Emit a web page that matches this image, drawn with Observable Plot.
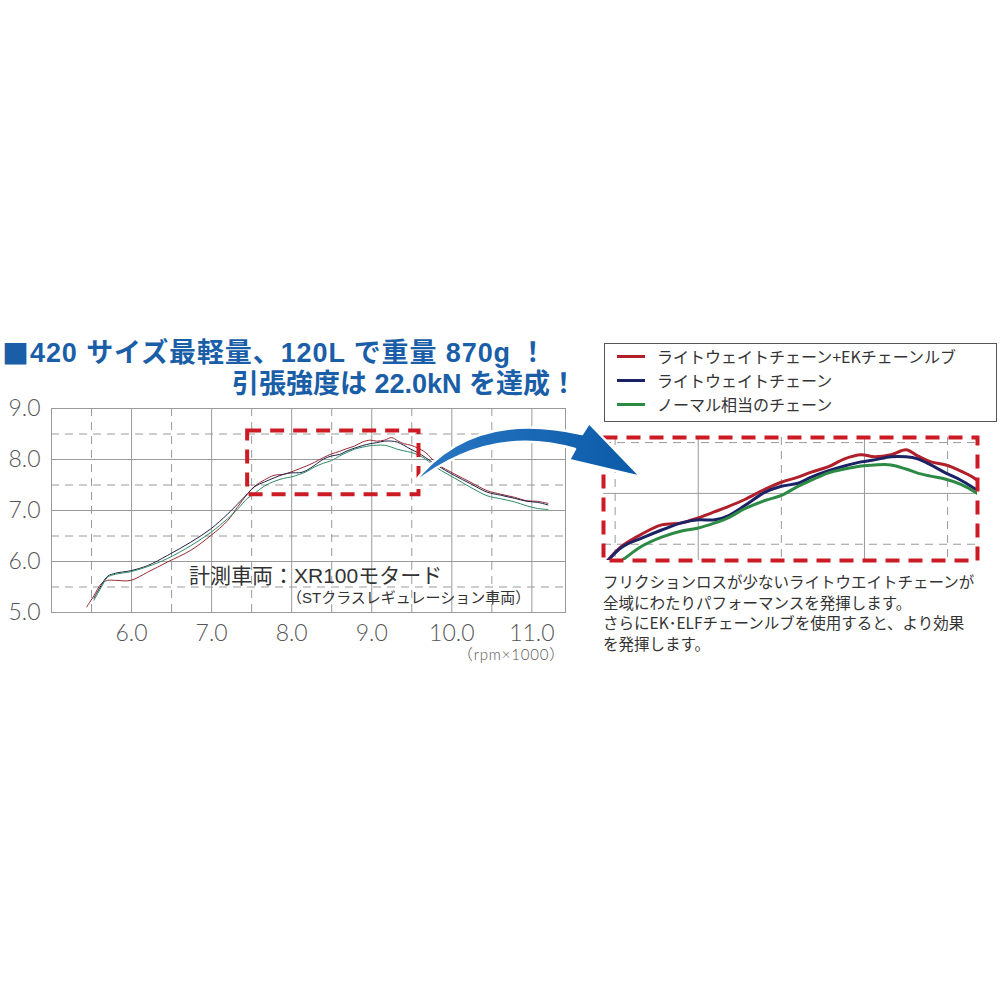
<!DOCTYPE html>
<html><head><meta charset="utf-8">
<script src="https://cdn.jsdelivr.net/npm/d3@7"></script>
<script src="https://cdn.jsdelivr.net/npm/@observablehq/plot@0.6"></script>
<style>
body{margin:0;background:#fff;}
#page{position:relative;width:1000px;height:1000px;overflow:hidden;font-family:"Noto Sans CJK JP","Noto Sans",sans-serif;color:#333;}
.abs{position:absolute;white-space:nowrap;}
</style></head><body><div id="page"></div>
<script>
// ---------- data ----------
const seriesNames = ["ライトウェイトチェーン+EKチェーンルブ", "ライトウェイトチェーン", "ノーマル相当のチェーン"];
const rpm = [5.44,5.53,5.62,5.70,5.80,5.99,6.20,6.45,6.74,6.99,7.20,7.32,7.45,7.54,7.66,7.78,7.90,8.00,8.10,8.18,8.28,8.40,8.50,8.60,8.68,8.78,8.88,8.98,9.06,9.16,9.25,9.32,9.40,9.49,9.58,9.67,9.82,10.03,10.24,10.44,10.61,10.78,10.94,11.07,11.20];
const lightLube = [5.11,5.33,5.56,5.63,5.63,5.63,5.79,5.99,6.22,6.51,6.80,7.06,7.33,7.48,7.60,7.69,7.71,7.76,7.82,7.87,7.94,8.04,8.11,8.16,8.21,8.26,8.34,8.38,8.36,8.38,8.43,8.37,8.31,8.28,8.22,8.14,7.91,7.72,7.55,7.39,7.32,7.26,7.19,7.18,7.14];
const light = [null,5.28,5.53,5.71,5.77,5.82,5.92,6.12,6.38,6.64,6.93,7.12,7.33,7.47,7.56,7.64,7.71,7.74,7.74,7.78,7.88,8.01,8.07,8.10,8.16,8.22,8.27,8.31,8.33,8.36,8.36,8.34,8.28,8.20,8.13,8.04,7.88,7.69,7.52,7.36,7.30,7.24,7.18,7.16,7.11];
const normal = [null,5.24,5.49,5.69,5.75,5.80,5.90,6.06,6.31,6.57,6.84,7.02,7.24,7.34,7.48,7.57,7.63,7.66,7.71,7.76,7.85,7.93,7.98,8.07,8.13,8.20,8.24,8.27,8.28,8.28,8.24,8.20,8.17,8.14,8.09,8.01,7.83,7.64,7.45,7.29,7.23,7.17,7.09,7.04,7.02];
const xTicks = [6,7,8,9,10,11];
const xHalfTicks = [5.5,6.5,7.5,8.5,9.5,10.5];
const yTicks = [5,6,7,8,9];
const yHalfTicks = [5.5,6.5,7.5,8.5];
const zoomX = [7.45, 9.59];   // enlarged window (rpm×1000)
const zoomY = [7.31, 8.56];
const zoomDomainX = [7.43, 9.68];
const zoomDomainY = [7.34, 8.55];
const colorsThin = ["#9a2a31","#1f2448","#2f8a66"];
const colorsBold = ["#b01f2a","#1c2266","#2c8a45"];

const titleMark = "■";
const titleLine1 = "420 サイズ最軽量、120L で重量 870g ！";
const titleLine2 = "引張強度は 22.0kN を達成！";
const vehicle = "計測車両：XR100モタード";
const vehicleNote = "（STクラスレギュレーション車両）";
const unitLabel = "（rpm×1000）";
const noteLines = ["フリクションロスが少ないライトウエイトチェーンが","全域にわたりパフォーマンスを発揮します。","さらにEK･ELFチェーンルブを使用すると、より効果","を発揮します。"];

// ---------- build table ----------
const allVals = [lightLube, light, normal];
const rows = [];
allVals.forEach((vals, k) => vals.forEach((v, i) => { if (v != null) rows.push({rpm: rpm[i], v, s: seriesNames[k]}); }));

const page = document.getElementById("page");
function addDiv(text, css) { const d = document.createElement("div"); d.className = "abs"; d.textContent = text; Object.assign(d.style, css); page.appendChild(d); return d; }
const compact = "'Liberation Sans','Noto Sans CJK JP',sans-serif";

// ---------- title ----------
const tStyle = {color:"#1a5ea8", fontWeight:"700", fontSize:"27px", lineHeight:"30px", fontFamily: compact, textShadow:"0 0 2px #fff"};
addDiv(titleMark, {...tStyle, left:"2px", top:"338px", fontFamily:"'Noto Sans CJK JP',sans-serif"});
addDiv(titleLine1, {...tStyle, left:"30px", top:"338px", letterSpacing:"0.9px"});
addDiv(titleLine2, {...tStyle, right:"423px", top:"369px"});

// ---------- left chart ----------
const gridC = "#9a9a9a";
const left = Plot.plot({
  width: 570, height: 267,
  marginLeft: 51, marginRight: 5, marginTop: 23, marginBottom: 40,
  x: {domain: [5, 11.42]},
  y: {domain: [5, 9]},
  color: {domain: seriesNames, range: colorsThin},
  style: {fontFamily: "Lato, 'Noto Sans CJK JP', sans-serif", fontSize: "23px", fontWeight: 300, color: "#555", background: "transparent"},
  marks: [
    Plot.ruleX(xHalfTicks, {stroke: gridC, strokeDasharray: "8,6"}),
    Plot.ruleY(yHalfTicks, {stroke: gridC, strokeDasharray: "8,6"}),
    Plot.ruleX(xTicks, {stroke: gridC}),
    Plot.ruleY(yTicks, {stroke: gridC}),
    Plot.frame({stroke: gridC}),
    Plot.axisX(xTicks, {tickSize: 0, tickPadding: 12, tickFormat: d => d.toFixed(1)}),
    Plot.axisY(yTicks, {tickSize: 0, tickPadding: 11, tickFormat: d => d.toFixed(1)}),
    Plot.line(rows, {x: "rpm", y: "v", stroke: "s", z: "s", strokeWidth: 1, curve: "catmull-rom"}),
    Plot.rect([{x1: zoomX[0], x2: zoomX[1], y1: zoomY[0], y2: zoomY[1]}], {x1: "x1", x2: "x2", y1: "y1", y2: "y2", fill: "none", stroke: "#cc1b24", strokeWidth: 4, strokeDasharray: "14,9"})
  ]
});
Object.assign(left.style, {position: "absolute", left: "0px", top: "385px"});
page.appendChild(left);

addDiv(vehicle, {left:"189px", top:"564px", fontSize:"21px", lineHeight:"24px", color:"#333", fontFamily: compact});
addDiv(vehicleNote, {left:"287px", top:"589px", fontSize:"15px", lineHeight:"18px", color:"#333", fontFamily: compact});
addDiv(unitLabel, {right:"435px", top:"645px", fontSize:"15px", lineHeight:"18px", color:"#555", fontWeight:"300", letterSpacing:"0.8px", fontFamily: "Lato,'Noto Sans CJK JP',sans-serif"});

// ---------- right (zoomed) chart ----------
const right = Plot.plot({
  width: 382, height: 135,
  marginLeft: 3, marginRight: 5, marginTop: 7, marginBottom: 5,
  x: {domain: zoomDomainX, axis: null},
  y: {domain: zoomDomainY, axis: null},
  color: {domain: seriesNames, range: colorsBold},
  style: {background: "transparent"},
  marks: [
    Plot.ruleX(xHalfTicks.filter(d => d > zoomDomainX[0] && d < zoomDomainX[1]), {stroke: gridC, strokeDasharray: "8,6"}),
    Plot.ruleY(yHalfTicks.filter(d => d > zoomDomainY[0] && d < zoomDomainY[1]), {stroke: gridC, strokeDasharray: "8,6"}),
    Plot.ruleX(xTicks.filter(d => d > zoomDomainX[0] && d < zoomDomainX[1]), {stroke: gridC}),
    Plot.ruleY(yTicks.filter(d => d > zoomDomainY[0] && d < zoomDomainY[1]), {stroke: gridC}),
    Plot.line(rows, {x: "rpm", y: "v", stroke: "s", z: "s", strokeWidth: 3, curve: "catmull-rom", clip: true}),
    Plot.frame({stroke: "#cc1b24", strokeWidth: 4, strokeDasharray: "14,9"})
  ]
});
Object.assign(right.style, {position: "absolute", left: "600px", top: "430px"});
page.appendChild(right);

// ---------- legend ----------
const leg = document.createElement("div");
Object.assign(leg.style, {position:"absolute", left:"604px", top:"343px", width:"393px", height:"79px", border:"1px solid #555", boxSizing:"border-box", background:"#fff"});
page.appendChild(leg);
seriesNames.forEach((n, i) => {
  const cy = 356 + 24 * i;
  const sw = document.createElement("div");
  Object.assign(sw.style, {position:"absolute", left:"617px", top:(cy - 1.5) + "px", width:"28px", height:"3px", background: colorsBold[i]});
  page.appendChild(sw);
  addDiv(n, {left:"657px", top:(cy - 10) + "px", fontSize:"16px", lineHeight:"20px", color:"#333"});
});

// ---------- note ----------
noteLines.forEach((t, i) => addDiv(t, {left:"603px", top:(572 + 20.5 * i) + "px", fontSize:"15.5px", lineHeight:"18px", color:"#333"}));

// ---------- arrow (decoration) ----------
const ns = "http://www.w3.org/2000/svg";
const svg = document.createElementNS(ns, "svg");
svg.setAttribute("width", 1000); svg.setAttribute("height", 1000);
Object.assign(svg.style, {position:"absolute", left:"0", top:"0", pointerEvents:"none"});
svg.innerHTML = `<defs><linearGradient id="ag" x1="0" y1="0" x2="1" y2="0"><stop offset="0" stop-color="#2a78c4"/><stop offset="1" stop-color="#0b5aa8"/></linearGradient></defs>
<path d="M 412 485 Q 470 408 582 434 L 589 423 L 641 477 L 569 460 L 575 449 Q 488 424 412 485 Z" fill="url(#ag)" stroke="#fff" stroke-width="2.5" stroke-linejoin="round"/>`;
page.appendChild(svg);
</script>
</body></html>
